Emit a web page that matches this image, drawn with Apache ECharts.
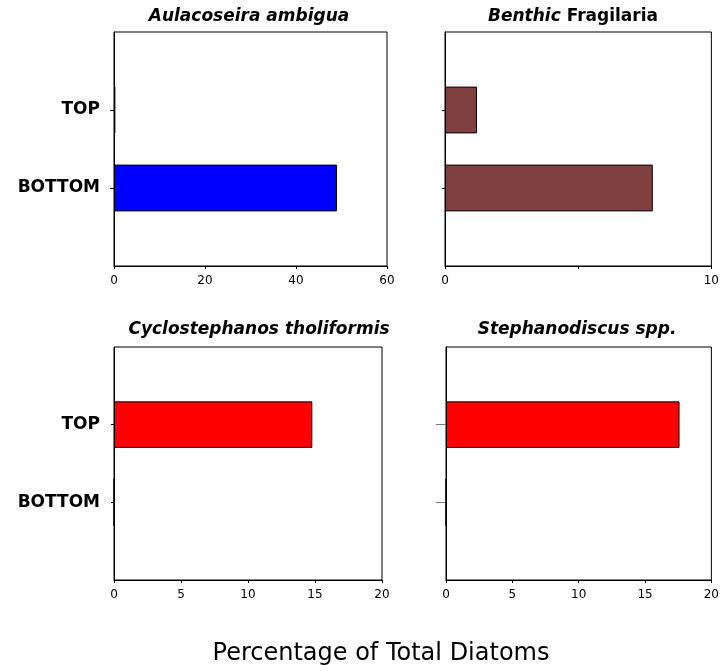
<!DOCTYPE html>
<html>
<head>
<meta charset="utf-8">
<script src="https://cdn.jsdelivr.net/npm/echarts@6/dist/echarts.min.js"></script>
<style>html,body{margin:0;padding:0;background:#fff}#c{width:722px;height:671px}</style>
</head>
<body>
<div id="c"></div>
<script>
// Categories (empty entries pad the axis so the two levels sit at 1/3 and 2/3)
var levels = ['', 'BOTTOM', 'TOP', ''];
// Series values [pad, BOTTOM, TOP, pad]
var aulacoseira = [null, 49.0, 0.3, null];
var benthicFragilaria = [null, 7.8, 1.2, null];
var cyclostephanos = [null, 0, 14.8, null];
var stephanodiscus = [null, 0, 17.6, null];
// Axis ranges / ticks
var axisMax = [60, 10, 20, 20];
var axisStep = [20, 5, 5, 5];
var panelTitles = ['Aulacoseira ambigua', 'Benthic Fragilaria', 'Cyclostephanos tholiformis', 'Stephanodiscus spp.'];
var xTitle = 'Percentage of Total Diatoms';

var chart = echarts.init(document.getElementById('c'));
var grids = [
  {left: 114, top: 32, width: 273, height: 234},
  {left: 445, top: 32, width: 267, height: 234},
  {left: 114, top: 347, width: 268, height: 233},
  {left: 446, top: 347, width: 266, height: 233}
];
var colors = ['#0000FF', '#804040', '#FF0000', '#FF0000'];
var data = [aulacoseira, benthicFragilaria, cyclostephanos, stephanodiscus];
var showYLabels = [true, false, true, false];
var yTickLen = [4, 3, 3, 10];
var yTickColor = ['#000', '#000', '#000', '#777'];

var xAxes = [], yAxes = [], series = [];
grids.forEach(function (g, i) {
  g.show = true; g.borderColor = '#000'; g.borderWidth = 1; g.containLabel = false;
  xAxes.push({
    type: 'value', gridIndex: i, min: 0, max: axisMax[i], interval: axisStep[i],
    splitLine: {show: false},
    axisLine: {show: true, lineStyle: {color: '#000', width: 1}},
    axisTick: {show: true, length: 3, lineStyle: {color: '#000'}},
    axisLabel: {
      color: '#000', fontFamily: 'DejaVu Sans', fontSize: 12, margin: 9,
      formatter: (function (idx) {
        return function (v) { return (idx === 1 && v === 5) ? '' : String(v); };
      })(i)
    }
  });
  yAxes.push({
    type: 'category', gridIndex: i, data: levels, boundaryGap: false,
    axisLine: {show: true, lineStyle: {color: '#000', width: 1}},
    axisTick: {show: true, length: yTickLen[i], lineStyle: {color: yTickColor[i]},
      interval: function (idx, val) { return val !== ''; }},
    axisLabel: {show: showYLabels[i], color: '#000', fontFamily: 'DejaVu Sans', fontWeight: 'bold',
      fontSize: 17, margin: 14, interval: 0},
    splitLine: {show: false}
  });
  series.push({
    type: 'bar', xAxisIndex: i, yAxisIndex: i, data: data[i], barWidth: '60%',
    itemStyle: {color: colors[i], borderColor: '#000', borderWidth: 1},
    silent: true, animation: false, z: 3
  });
});

var titleStyle = {fontFamily: 'DejaVu Sans', fontWeight: 'bold', fontStyle: 'italic', fontSize: 17, fill: '#000'};
var titlePos = [[249, 17], [573, 17], [259, 330], [577, 330]];
var graphics = [];
titlePos.forEach(function (p, i) {
  var st;
  if (i === 1) {
    var parts = panelTitles[1].split(' ');
    st = {
      text: '{a|' + parts[0] + '} {b|' + parts.slice(1).join(' ') + '}',
      rich: {
        a: {fontFamily: 'DejaVu Sans', fontWeight: 'bold', fontStyle: 'italic', fontSize: 17, fill: '#000'},
        b: {fontFamily: 'DejaVu Sans', fontWeight: 'bold', fontStyle: 'normal', fontSize: 17, fill: '#000'}
      },
      fontFamily: 'DejaVu Sans', fontWeight: 'bold', fontSize: 17,
      align: 'center', verticalAlign: 'middle'
    };
  } else {
    st = Object.assign({text: panelTitles[i], align: 'center', verticalAlign: 'middle'}, titleStyle);
  }
  graphics.push({type: 'text', x: p[0], y: p[1], style: st});
});
graphics.push({type: 'text', x: 381, y: 654, style: {text: xTitle, fontFamily: 'DejaVu Sans', fontSize: 24,
  fill: '#000', align: 'center', verticalAlign: 'middle'}});

chart.setOption({
  animation: false,
  backgroundColor: '#fff',
  grid: grids,
  xAxis: xAxes,
  yAxis: yAxes,
  series: series,
  graphic: graphics
});
</script>
</body>
</html>
